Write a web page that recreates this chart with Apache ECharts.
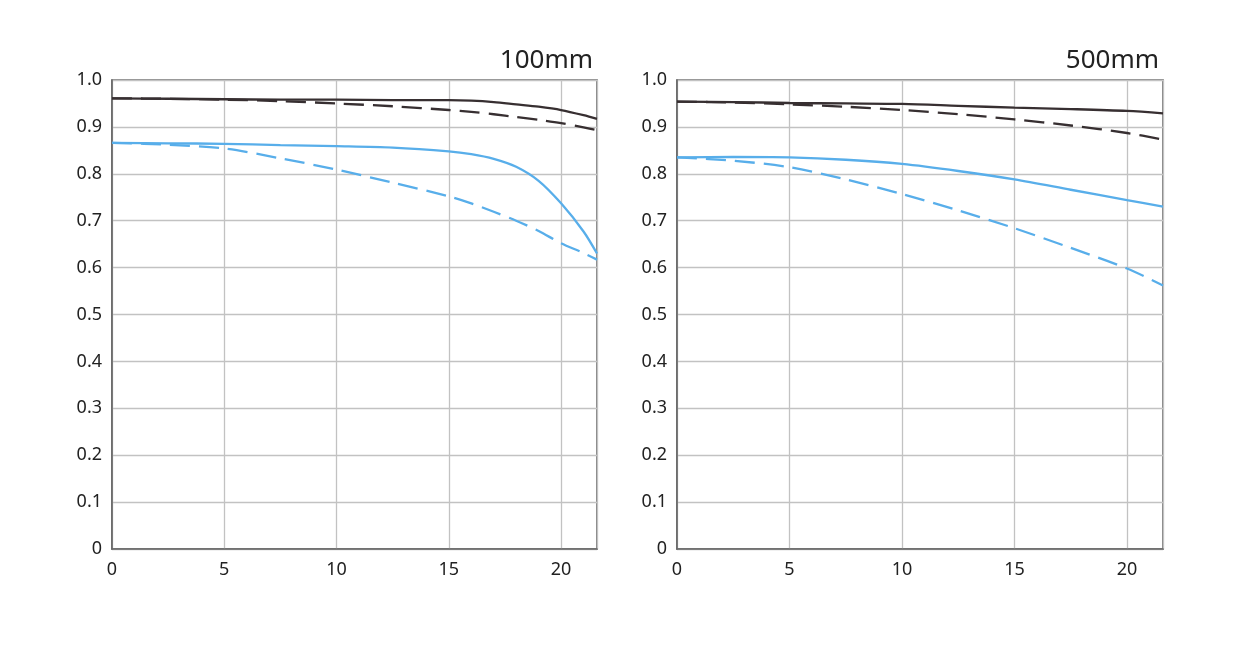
<!DOCTYPE html>
<html><head><meta charset="utf-8">
<script src="https://cdn.jsdelivr.net/npm/echarts@6/dist/echarts.min.js"></script>
<style>html,body{margin:0;padding:0;background:#fff}#c{width:1258px;height:650px}</style>
</head><body><div id="c"></div>
<script>
// ---- data ----
const titles = ['100mm', '500mm'];
const xTicks = [0, 5, 10, 15, 20];
const yTicks = ['0', '0.1', '0.2', '0.3', '0.4', '0.5', '0.6', '0.7', '0.8', '0.9', '1.0'];

const x100 = [0, 2.5, 5, 7.5, 10, 12.5, 15, 16, 17, 18, 19, 20, 21, 21.6];
const black100Solid  = [0.961, 0.960, 0.959, 0.958, 0.958, 0.957, 0.957, 0.956, 0.953, 0.948, 0.943, 0.936, 0.925, 0.917];
const black100Dashed = [0.961, 0.960, 0.958, 0.955, 0.950, 0.944, 0.936, 0.932, 0.927, 0.921, 0.915, 0.908, 0.899, 0.893];
const blue100Solid   = [0.866, 0.865, 0.864, 0.861, 0.859, 0.856, 0.848, 0.842, 0.832, 0.815, 0.785, 0.737, 0.677, 0.630];
const blue100Dashed  = [0.866, 0.862, 0.854, 0.833, 0.809, 0.781, 0.752, 0.737, 0.719, 0.700, 0.678, 0.652, 0.631, 0.617];

const x500 = [0, 2.5, 5, 7.5, 10, 12.5, 15, 17.5, 20, 21.6];
const black500Solid  = [0.954, 0.953, 0.951, 0.950, 0.949, 0.945, 0.941, 0.938, 0.934, 0.929];
const black500Dashed = [0.954, 0.952, 0.948, 0.943, 0.936, 0.927, 0.916, 0.903, 0.887, 0.873];
const blue500Solid   = [0.835, 0.836, 0.835, 0.830, 0.821, 0.806, 0.788, 0.766, 0.744, 0.730];
const blue500Dashed  = [0.835, 0.828, 0.814, 0.788, 0.757, 0.722, 0.684, 0.642, 0.598, 0.562];

// ---- chart ----
const BLACK = '#372f31', BLUE = '#58aeea';
const FONT = '"Noto Sans", sans-serif';
const zip = (xs, ys) => xs.map((x, i) => [x, ys[i]]);

const grids = [
  { left: 112, top: 80, width: 485, height: 469 },
  { left: 677, top: 80, width: 486, height: 469 }
];

function mk(name, gi, xs, ys, color, dashed) {
  return {
    name, type: 'line', xAxisIndex: gi, yAxisIndex: gi,
    data: zip(xs, ys), smooth: 0.3, showSymbol: false, symbol: 'none',
    lineStyle: { color, width: 2.3, type: dashed ? [20, 9] : 'solid' },
    z: dashed ? 3 : 4, animation: false
  };
}

const option = {
  animation: false,
  title: grids.map((g, i) => ({
    text: titles[i], right: 1258 - (g.left + g.width) - 1, top: 43,
    textStyle: { fontFamily: FONT, fontSize: 26, fontWeight: 'normal', color: '#222' }
  })),
  grid: grids.map(g => Object.assign({ show: true, borderColor: '#666', borderWidth: 1.6 }, g)),
  xAxis: grids.map((g, i) => ({
    type: 'value', gridIndex: i, min: 0, max: 21.6, interval: 5,
    axisLine: { show: true, lineStyle: { color: '#666', width: 1.6 } },
    axisTick: { show: false },
    splitLine: { show: true, lineStyle: { color: '#c2c2c2', width: 1.3 } },
    axisLabel: { showMaxLabel: false, margin: 12, fontFamily: FONT, fontSize: 18, color: '#222',
      formatter: v => xTicks.includes(v) ? String(v) : '' }
  })),
  yAxis: grids.map((g, i) => ({
    type: 'value', gridIndex: i, min: 0, max: 1, interval: 0.1,
    axisLine: { show: true, lineStyle: { color: '#666', width: 1.6 } },
    axisTick: { show: false },
    splitLine: { show: true, lineStyle: { color: '#c2c2c2', width: 1.3 } },
    axisLabel: { margin: 10, fontFamily: FONT, fontSize: 18, color: '#222',
      formatter: v => yTicks[Math.round(v * 10)] }
  })),
  series: [
    mk('100 S black', 0, x100, black100Solid, BLACK, false),
    mk('100 M black', 0, x100, black100Dashed, BLACK, true),
    mk('100 S blue', 0, x100, blue100Solid, BLUE, false),
    mk('100 M blue', 0, x100, blue100Dashed, BLUE, true),
    mk('500 S black', 1, x500, black500Solid, BLACK, false),
    mk('500 M black', 1, x500, black500Dashed, BLACK, true),
    mk('500 S blue', 1, x500, blue500Solid, BLUE, false),
    mk('500 M blue', 1, x500, blue500Dashed, BLUE, true)
  ]
};
const chart = echarts.init(document.getElementById('c'), null, { renderer: 'canvas' });
chart.setOption(option);
</script></body></html>
